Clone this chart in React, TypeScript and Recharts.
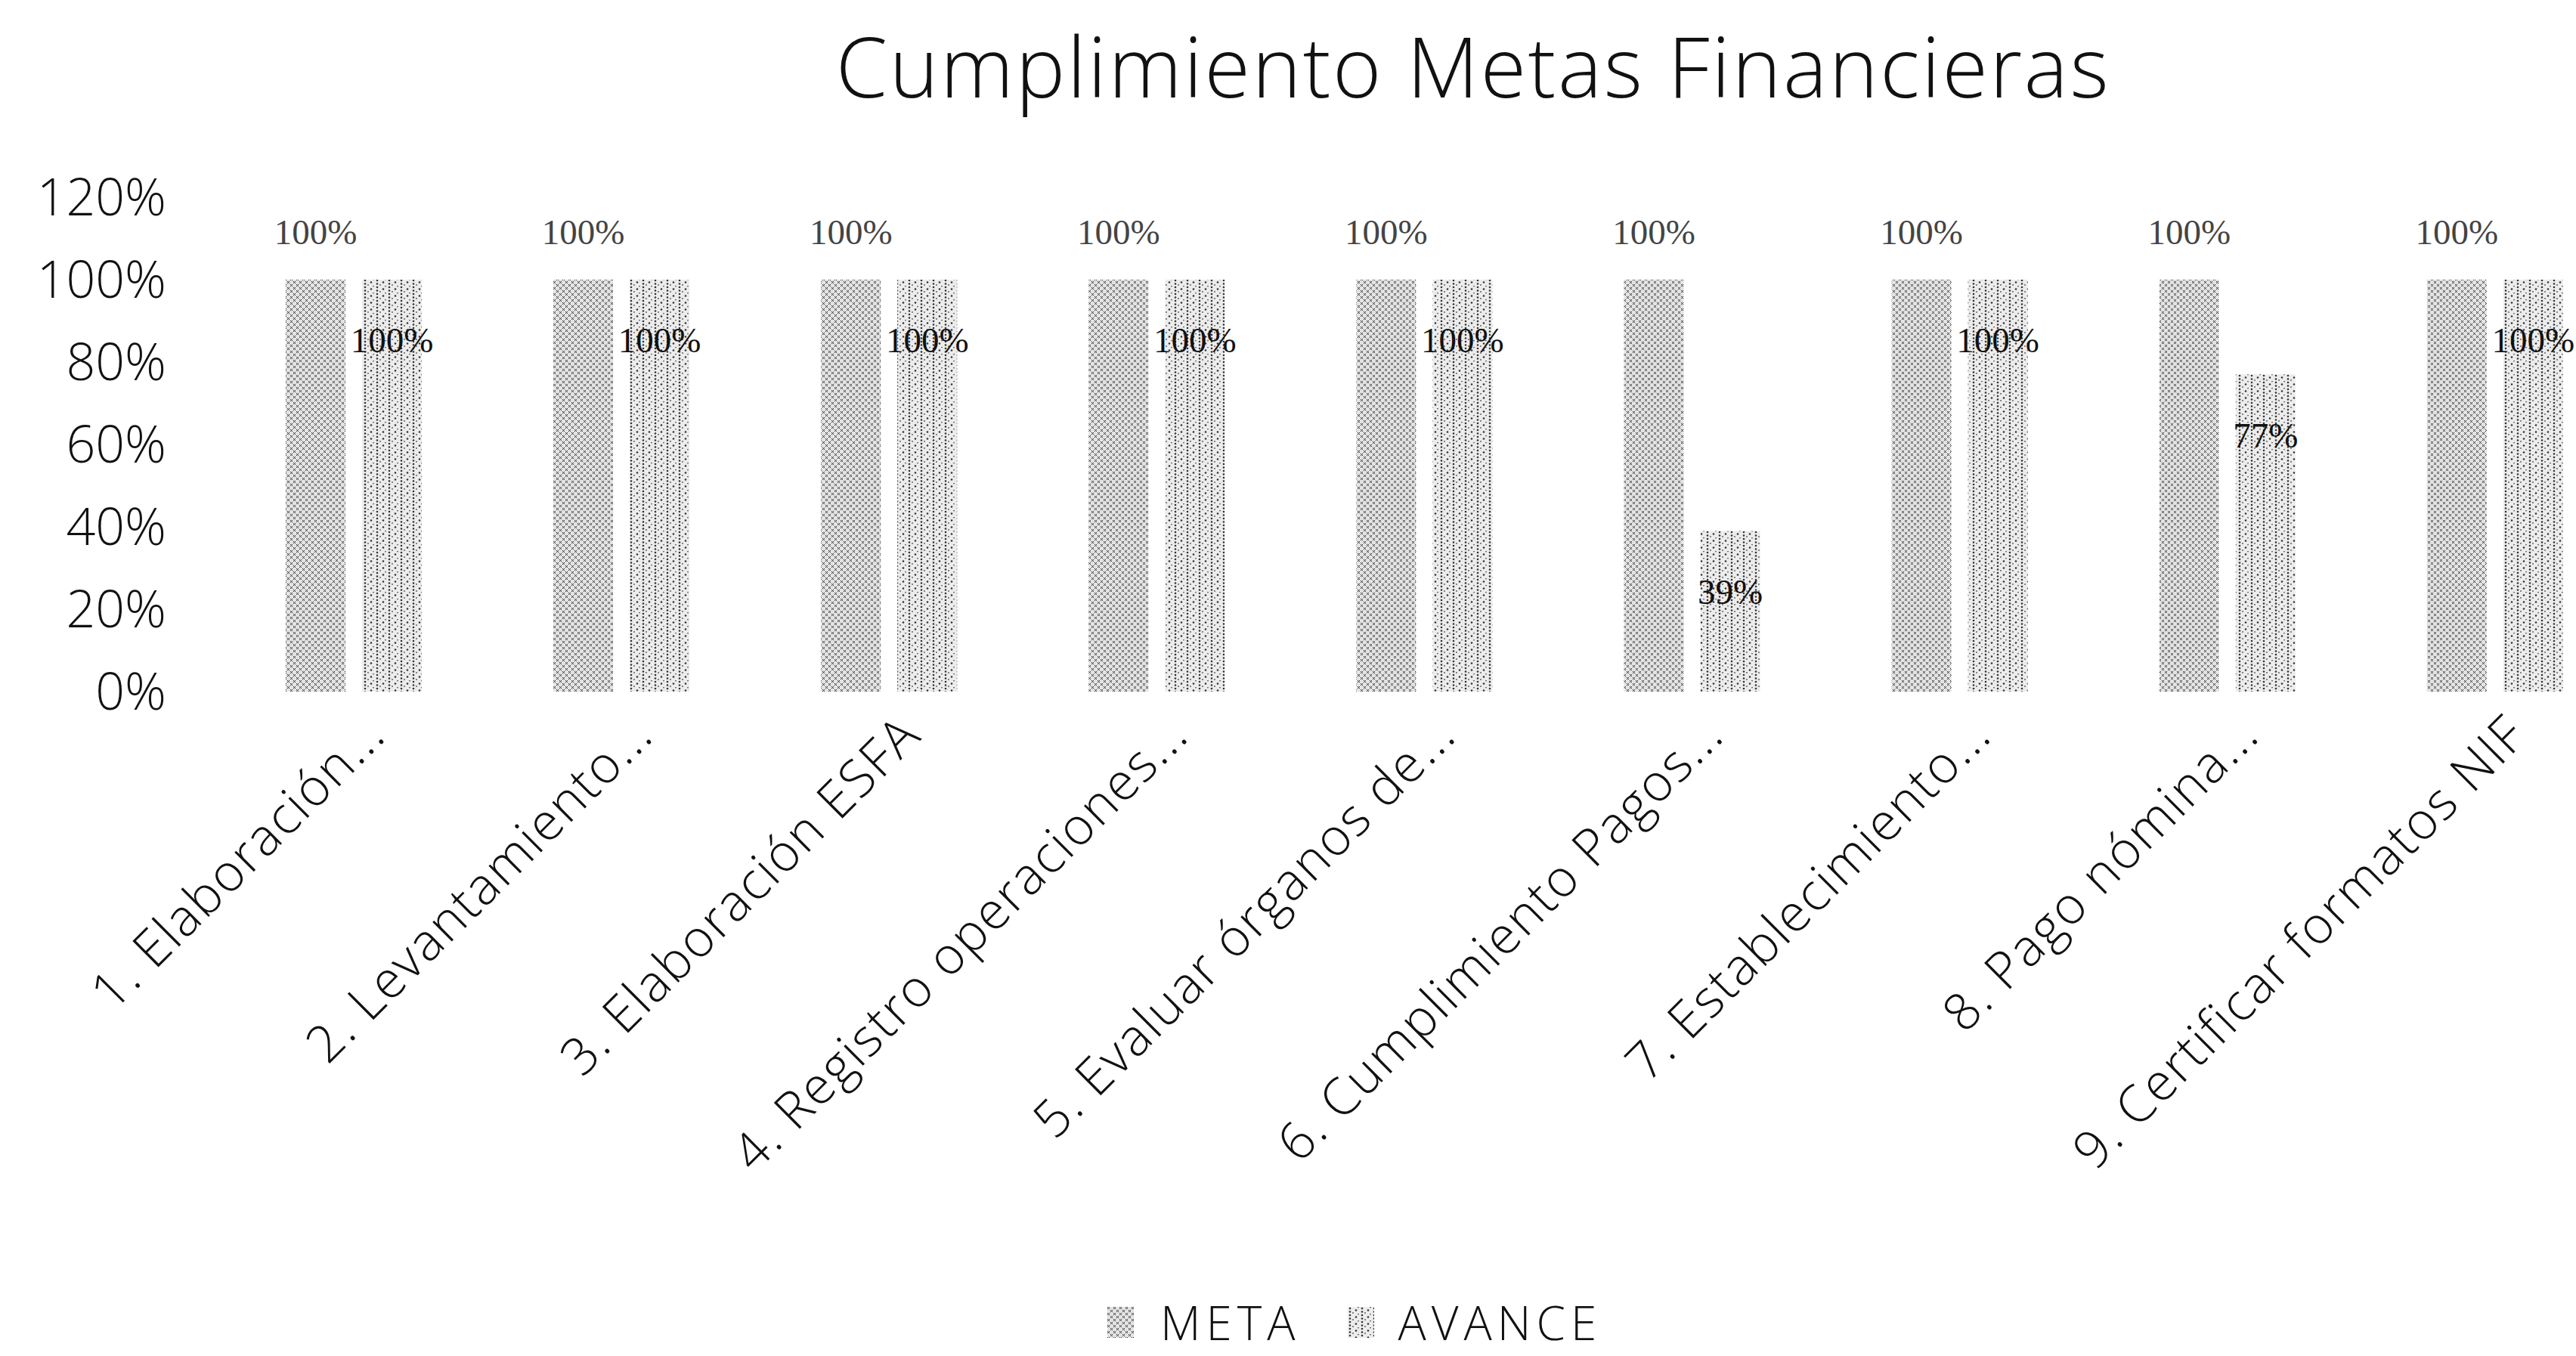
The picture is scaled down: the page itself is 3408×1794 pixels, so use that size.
import { BarChart, Bar, XAxis, YAxis, Legend, LabelList } from 'recharts';

const categories = [
  '1. Elaboración...',
  '2. Levantamiento...',
  '3. Elaboración ESFA',
  '4. Registro operaciones...',
  '5. Evaluar órganos de...',
  '6. Cumplimiento Pagos...',
  '7. Establecimiento...',
  '8. Pago nómina...',
  '9. Certificar formatos NIF',
];
const metaValues = [1, 1, 1, 1, 1, 1, 1, 1, 1];
const avanceValues = [1, 1, 1, 1, 1, 0.39, 1, 0.77, 1];
const yTicks = [0, 0.2, 0.4, 0.6, 0.8, 1, 1.2];
const seriesNames = ['META', 'AVANCE'];

const data = categories.map((name, i) => ({
  name,
  meta: metaValues[i],
  avance: avanceValues[i],
}));

const pct = (v: any) => `${Math.round(Number(v) * 100)}%`;
const sans = '"Open Sans", "Liberation Sans", sans-serif';

const XTick = (props: any) => {
  const { x, y, payload } = props;
  const ax = x + 45;
  const ay = y + 55;
  return (
    <text
      x={ax}
      y={ay}
      transform={`rotate(-45 ${ax} ${ay})`}
      textAnchor="end"
      fontSize={68}
      letterSpacing={2}
      fontFamily={sans}
      fontWeight={300}
      fill="#111"
    >
      {payload.value}
    </text>
  );
};

const Swatch = ({ id }: { id: string }) => (
  <svg width={35} height={41} style={{ display: 'block' }}>
    <rect width={35} height={41} fill={`url(#${id})`} />
  </svg>
);

const LegendBox = () => (
  <div
    style={{
      display: 'flex',
      alignItems: 'center',
      height: 56,
      fontFamily: sans,
      fontWeight: 300,
      fontSize: 62,
      lineHeight: '56px',
      letterSpacing: 7,
      color: '#111',
      whiteSpace: 'nowrap',
    }}
  >
    <Swatch id="metaPat" />
    <span style={{ marginLeft: 35, marginRight: 62 }}>{seriesNames[0]}</span>
    <Swatch id="avPat" />
    <span style={{ marginLeft: 32 }}>{seriesNames[1]}</span>
  </div>
);

export default function App() {
  return (
    <div
      style={{
        position: 'fixed',
        left: 0,
        top: 0,
        width: 3408,
        height: 1794,
        overflow: 'hidden',
        background: '#fff',
      }}
    >
      <div
        style={{
          position: 'absolute',
          left: 949,
          top: 31,
          width: 2000,
          textAlign: 'center',
          fontFamily: sans,
          fontWeight: 300,
          fontSize: 110,
          lineHeight: '110px',
          letterSpacing: 2.5,
          color: '#111',
          whiteSpace: 'nowrap',
          zIndex: 2,
        }}
      >
        Cumplimiento Metas Financieras
      </div>
      <BarChart
        width={3560}
        height={1794}
        data={data}
        margin={{ top: 261, right: 82, bottom: 0, left: 0 }}
        barSize={79}
        barGap={22}
      >
        <defs>
          <pattern id="metaPat" width={8} height={8} patternUnits="userSpaceOnUse">
            <rect width={8} height={8} fill="#e2e2e2" />
            <path d="M0 0L3 3M3 0L0 3M4 4L7 7M7 4L4 7" stroke="#333" strokeWidth={1} />
          </pattern>
          <pattern id="avPat" width={16} height={9} patternUnits="userSpaceOnUse">
            <rect width={16} height={9} fill="#ececec" />
            <circle cx={3} cy={2} r={1.3} fill="#333" />
            <circle cx={3} cy={6.5} r={1.3} fill="#333" />
            <circle cx={11} cy={4.5} r={1.3} fill="#333" />
            <circle cx={7} cy={8} r={0.9} fill="#555" />
            <circle cx={14} cy={0.5} r={0.9} fill="#555" />
          </pattern>
        </defs>
        <XAxis
          dataKey="name"
          height={823}
          interval={0}
          axisLine={false}
          tickLine={false}
          tickMargin={0}
          tick={<XTick />}
        />
        <YAxis
          width={291}
          domain={[0, 1.2]}
          ticks={yTicks}
          tickFormatter={pct}
          axisLine={false}
          tickLine={false}
          tickMargin={65}
          tick={{ fontSize: 68, fontFamily: sans, fontWeight: 300, fill: '#111' }}
        />
        <Legend
          verticalAlign="bottom"
          content={<LegendBox />}
          wrapperStyle={{ top: 1721, left: 1465, width: 800, height: 56, bottom: 'auto' }}
        />
        <Bar dataKey="meta" name={seriesNames[0]} fill="url(#metaPat)" isAnimationActive={false}>
          <LabelList
            dataKey="meta"
            position="top"
            offset={47}
            formatter={pct}
            style={{ fontSize: 47, fontFamily: '"Liberation Serif", serif', fill: '#444' }}
          />
        </Bar>
        <Bar dataKey="avance" name={seriesNames[1]} fill="url(#avPat)" isAnimationActive={false}>
          <LabelList
            dataKey="avance"
            position="insideTop"
            offset={63}
            formatter={pct}
            style={{ fontSize: 47, fontFamily: '"Liberation Serif", serif', fill: '#111' }}
          />
        </Bar>
      </BarChart>
    </div>
  );
}
